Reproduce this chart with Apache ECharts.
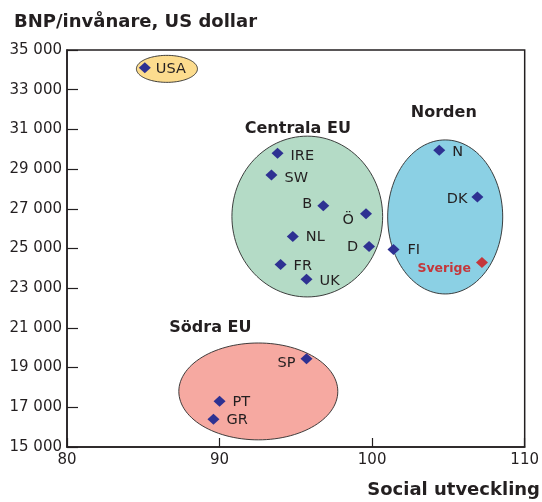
<!DOCTYPE html>
<html><head><meta charset="utf-8">
<script src="https://cdn.jsdelivr.net/npm/echarts@6/dist/echarts.min.js"></script>
<style>html,body{margin:0;padding:0;background:#fff}#c{width:542px;height:502px}</style>
</head><body><div id="c"></div>
<script>
// Countries: social development (x) vs GDP per capita in USD (y)
var countries = ['USA','IRE','SW','B','Ö','NL','D','FR','UK','FI','N','DK','Sverige','SP','PT','GR'];
var socialDev = [85.1, 93.8, 93.4, 96.8, 99.6, 94.8, 99.8, 94.0, 95.7, 101.4, 104.4, 106.9, 107.2, 95.7, 90.0, 89.6];
var gdpPerCapita = [34100, 29800, 28700, 27150, 26750, 25600, 25100, 24200, 23450, 24950, 29950, 27600, 24300, 19450, 17300, 16400];

// Group ellipses: centre (x, y) and radii (x, y) in data units
var groups = ['USA', 'Centrala EU', 'Norden', 'Södra EU'];
var groupCx = [86.55, 95.75, 104.79, 92.54];
var groupCy = [34050, 26610, 26590, 17800];
var groupRx = [2.0, 4.94, 3.77, 5.21];
var groupRy = [680, 4050, 3880, 2440];

// Axis tick values
var xTicks = [80, 90, 100, 110];
var yTicks = [15000, 17000, 19000, 21000, 23000, 25000, 27000, 29000, 31000, 33000, 35000];

// Styling (kept separate from data)
var groupFill = {'USA':'#FCDC8E', 'Centrala EU':'#B4DBC6', 'Norden':'#8BD0E4', 'Södra EU':'#F6A9A1'};
var groupTitleAnchor = {'Centrala EU':[95.13, 31050], 'Norden':[104.7, 31850], 'Södra EU':[89.4, 20980]};
var labelStyle = {
  'USA':{position:'right', offset:[0,1]},
  'IRE':{position:'right', offset:[2,3]},
  'SW':{position:'right', offset:[2,3]},
  'B':{position:'left', offset:[0,-2]},
  'Ö':{position:'left', offset:[-1,6]},
  'NL':{position:'right', offset:[2,1]},
  'D':{position:'left', offset:[0,1]},
  'FR':{position:'right', offset:[2,2]},
  'UK':{position:'right', offset:[2,2]},
  'FI':{position:'right', offset:[3,1]},
  'N':{position:'right', offset:[2,2]},
  'DK':{position:'left', offset:[1,2]},
  'Sverige':{position:'left', offset:[0,6], color:'#C4373B', fontWeight:'bold', fontSize:12.5},
  'SP':{position:'left', offset:[0,5]},
  'PT':{position:'right', offset:[2,1]},
  'GR':{position:'right', offset:[2,1]}
};

var ink = '#231F20';
var pointData = countries.map(function(n, i){
  var ls = labelStyle[n];
  return {
    name: n,
    value: [socialDev[i], gdpPerCapita[i]],
    itemStyle: {color: n === 'Sverige' ? '#C4373B' : '#2E3192', opacity:1},
    label: Object.assign({show:true, formatter:n, distance:5}, ls)
  };
});

var ellipseData = groups.map(function(g, i){
  return {name:g, value:[groupCx[i], groupCy[i], groupRx[i], groupRy[i]]};
});

var titleData = Object.keys(groupTitleAnchor).map(function(g){
  return {name:g, value:groupTitleAnchor[g]};
});

function fmt(v){ return String(v).replace(/\B(?=(\d{3})+(?!\d))/g, ' '); }

var chart = echarts.init(document.getElementById('c'), null, {renderer:'canvas'});
var font = '"DejaVu Sans", Verdana, sans-serif';
chart.setOption({
  animation:false,
  backgroundColor:'#fff',
  textStyle:{fontFamily:font},
  title:[
    {text:'BNP/invånare, US dollar', left:9, top:8, textStyle:{fontSize:18, fontWeight:'bold', color:ink, fontFamily:font}},
  ],
  graphic:[
    {type:'text', right:2, bottom:3, style:{text:'Social utveckling', font:'bold 18px ' + font, fill:ink}}
  ],
  grid:{left:67, right:17, top:50, bottom:55, show:true, borderColor:ink, borderWidth:1.5, backgroundColor:'transparent'},
  xAxis:{
    type:'value', min:xTicks[0], max:xTicks[xTicks.length-1], interval:10,
    axisLine:{show:true, lineStyle:{color:ink, width:1.5}},
    axisTick:{show:true, inside:true, length:9, lineStyle:{color:ink, width:1.2}},
    axisLabel:{fontSize:15, color:ink, margin:6, fontFamily:font},
    splitLine:{show:false}
  },
  yAxis:{
    type:'value', min:yTicks[0], max:yTicks[yTicks.length-1], interval:2000,
    axisLine:{show:true, lineStyle:{color:ink, width:1.5}},
    axisTick:{show:true, inside:true, length:11, lineStyle:{color:ink, width:1.2}},
    axisLabel:{fontSize:15, color:ink, margin:5, fontFamily:font, formatter:fmt},
    splitLine:{show:false}
  },
  series:[
    {
      type:'custom', z:1, clip:false,
      encode:{x:0, y:1},
      data:ellipseData,
      renderItem:function(params, api){
        var cx = api.value(0), cy = api.value(1), rx = api.value(2), ry = api.value(3);
        var pts = [];
        for (var k = 0; k < 120; k++) {
          var t = k / 120 * Math.PI * 2;
          pts.push(api.coord([cx + rx * Math.cos(t), cy + ry * Math.sin(t)]));
        }
        var g = groups[params.dataIndex];
        return {type:'polygon', shape:{points:pts}, style:{fill:groupFill[g], stroke:'#2a2a2a', lineWidth:0.9}};
      }
    },
    {
      type:'scatter', z:3, symbol:'diamond', symbolSize:[12,11],
      itemStyle:{opacity:1},
      data:pointData,
      label:{fontSize:14.5, color:ink, fontFamily:font}
    },
    {
      type:'scatter', z:3, symbolSize:0,
      itemStyle:{opacity:1},
      data:titleData,
      label:{show:true, position:'inside', formatter:'{b}', fontSize:16, fontWeight:'bold', color:ink, fontFamily:font}
    }
  ]
});
</script></body></html>
